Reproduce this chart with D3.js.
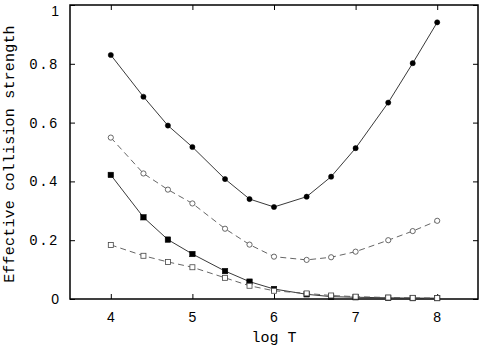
<!DOCTYPE html>
<html>
<head>
<meta charset="utf-8">
<script src="https://cdn.jsdelivr.net/npm/d3@7"></script>
<style>
  body { margin: 0; background: #fff; }
  svg { display: block; }
</style>
</head>
<body>
<svg id="chart" width="479" height="348"></svg>
<script>
const logT = [4.0, 4.4, 4.7, 5.0, 5.4, 5.7, 6.0, 6.4, 6.7, 7.0, 7.4, 7.7, 8.0];
const filledCircles = [0.830, 0.688, 0.590, 0.517, 0.408, 0.340, 0.313, 0.348, 0.416, 0.513, 0.668, 0.802, 0.941];
const openCircles = [0.549, 0.427, 0.372, 0.325, 0.239, 0.185, 0.144, 0.133, 0.142, 0.161, 0.200, 0.231, 0.266];
const filledSquares = [0.422, 0.278, 0.202, 0.153, 0.095, 0.059, 0.034, 0.016, 0.008, 0.006, 0.004, 0.003, 0.003];
const openSquares = [0.184, 0.147, 0.126, 0.108, 0.072, 0.045, 0.028, 0.019, 0.012, 0.008, 0.005, 0.004, 0.003];
const xTicks = [4, 5, 6, 7, 8];
const yTicks = [0, 0.2, 0.4, 0.6, 0.8, 1];

const margin = { top: 5, right: 1, bottom: 49, left: 70 };
const width = 479 - margin.left - margin.right;
const height = 348 - margin.top - margin.bottom;

const svg = d3.select("#chart");
const g = svg.append("g").attr("transform", `translate(${margin.left},${margin.top})`);

const x = d3.scaleLinear().domain([3.5, 8.5]).range([0, width]);
const y = d3.scaleLinear().domain([0, 1]).range([height, 0]);

// inward ticks on all four sides
g.append("g").attr("transform", `translate(0,${height})`)
  .call(d3.axisBottom(x).tickValues(xTicks).tickSize(-5).tickFormat(""));
g.append("g")
  .call(d3.axisTop(x).tickValues(xTicks).tickSize(-5).tickFormat(""));
g.append("g")
  .call(d3.axisLeft(y).tickValues(yTicks).tickSize(-5).tickFormat(""));
g.append("g").attr("transform", `translate(${width},0)`)
  .call(d3.axisRight(y).tickValues(yTicks).tickSize(-5).tickFormat(""));
g.selectAll(".domain").remove();
g.selectAll(".tick line").attr("stroke", "#000").attr("stroke-width", 1);

g.append("rect")
  .attr("width", width).attr("height", height)
  .attr("fill", "none").attr("stroke", "#000").attr("stroke-width", 1.5);

// tick labels
g.selectAll(".xlab").data(xTicks).enter().append("text")
  .attr("x", d => x(d)).attr("y", height + 23)
  .attr("text-anchor", "middle")
  .attr("font-family", "Liberation Sans, Arial, sans-serif")
  .attr("font-size", 14)
  .text(d => d);

g.selectAll(".ylab").data(yTicks).enter().append("text")
  .attr("x", -11).attr("y", d => d === 1 ? 6 : y(d)).attr("dy", "0.35em")
  .attr("text-anchor", "end")
  .attr("font-family", d => (d === 0 || d === 1) ? "Liberation Sans, Arial, sans-serif" : "Liberation Mono, Courier New, monospace")
  .attr("font-size", 14)
  .attr("letter-spacing", d => (d === 0 || d === 1) ? 0 : 1.5)
  .text(d => d);

// axis titles
svg.append("text")
  .attr("x", margin.left + x(6)).attr("y", 342)
  .attr("text-anchor", "middle")
  .attr("font-family", "Liberation Mono, Courier New, monospace")
  .attr("font-size", 15)
  .text("log T");

svg.append("text")
  .attr("transform", `translate(14,${margin.top + height / 2 + 2}) rotate(-90)`)
  .attr("text-anchor", "middle")
  .attr("font-family", "Liberation Mono, Courier New, monospace")
  .attr("font-size", 15)
  .attr("letter-spacing", 0.2)
  .text("Effective collision strength");

const series = [
  { values: filledCircles, dash: null, marker: "circle", fill: "#000" },
  { values: openCircles, dash: "6,4", marker: "circle", fill: "#fff" },
  { values: filledSquares, dash: null, marker: "square", fill: "#000" },
  { values: openSquares, dash: "6,4", marker: "square", fill: "#fff" }
];

const line = d3.line().x(d => x(d[0])).y(d => y(d[1]));

series.forEach(s => {
  const pts = logT.map((t, i) => [t, s.values[i]]);
  g.append("path")
    .datum(pts)
    .attr("d", line)
    .attr("fill", "none")
    .attr("stroke", s.dash ? "#555" : "#222")
    .attr("stroke-width", 0.9)
    .attr("stroke-dasharray", s.dash);

  if (s.marker === "circle") {
    g.selectAll(null).data(pts).enter().append("circle")
      .attr("cx", d => x(d[0])).attr("cy", d => y(d[1]))
      .attr("r", s.fill === "#000" ? 2.6 : 2.6)
      .attr("fill", s.fill)
      .attr("stroke", s.fill === "#000" ? "#000" : "#444")
      .attr("stroke-width", s.fill === "#000" ? 0.5 : 0.8);
  } else {
    const sz = s.fill === "#000" ? 5.5 : 5;
    g.selectAll(null).data(pts).enter().append("rect")
      .attr("x", d => x(d[0]) - sz / 2).attr("y", d => y(d[1]) - sz / 2)
      .attr("width", sz).attr("height", sz)
      .attr("fill", s.fill)
      .attr("stroke", s.fill === "#000" ? "#000" : "#444")
      .attr("stroke-width", s.fill === "#000" ? 0.5 : 0.8);
  }
});
</script>
</body>
</html>
